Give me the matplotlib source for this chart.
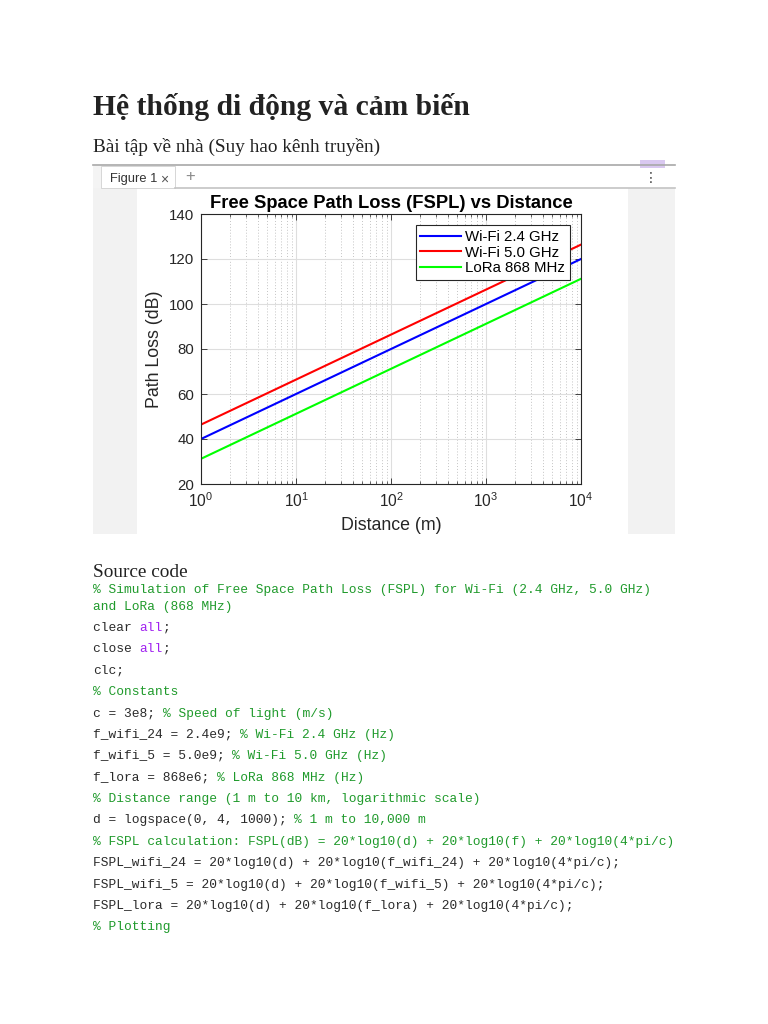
import matplotlib
matplotlib.use("Agg")
import matplotlib.pyplot as plt
from matplotlib.patches import Rectangle
from matplotlib.lines import Line2D
from matplotlib.ticker import LogLocator, NullFormatter

# ---------------- data ----------------
distance_m = [1, 10, 100, 1000, 10000]
fspl_wifi_24 = [40.0, 60.0, 80.0, 100.0, 120.0]
fspl_wifi_5 = [46.4, 66.4, 86.4, 106.4, 126.4]
fspl_lora = [31.2, 51.2, 71.2, 91.2, 111.2]
series_labels = ["Wi-Fi 2.4 GHz", "Wi-Fi 5.0 GHz", "LoRa 868 MHz"]
y_ticks = [20, 40, 60, 80, 100, 120, 140]
x_ticks = [1, 10, 100, 1000, 10000]

page_title = "Hệ thống di động và cảm biến"
page_subtitle = "Bài tập về nhà (Suy hao kênh truyền)"
section_label = "Source code"
code_lines = [
    "% Simulation of Free Space Path Loss (FSPL) for Wi-Fi (2.4 GHz, 5.0 GHz)",
    "%and LoRa (868 MHz)",
    "clear all;",
    "close all;",
    "clc;",
    "% Constants",
    "c = 3e8; % Speed of light (m/s)",
    "f_wifi_24 = 2.4e9; % Wi-Fi 2.4 GHz (Hz)",
    "f_wifi_5 = 5.0e9; % Wi-Fi 5.0 GHz (Hz)",
    "f_lora = 868e6; % LoRa 868 MHz (Hz)",
    "% Distance range (1 m to 10 km, logarithmic scale)",
    "d = logspace(0, 4, 1000); % 1 m to 10,000 m",
    "% FSPL calculation: FSPL(dB) = 20*log10(d) + 20*log10(f) + 20*log10(4*pi/c)",
    "FSPL_wifi_24 = 20*log10(d) + 20*log10(f_wifi_24) + 20*log10(4*pi/c);",
    "FSPL_wifi_5 = 20*log10(d) + 20*log10(f_wifi_5) + 20*log10(4*pi/c);",
    "FSPL_lora = 20*log10(d) + 20*log10(f_lora) + 20*log10(4*pi/c);",
    "% Plotting",
]
code_baselines = [593, 610, 631, 652, 674, 695, 717, 738, 759, 781, 802, 823, 845, 866, 888, 909, 930]

# ---------------- figure ----------------
W, H, DPI = 768, 1024, 100
fig = plt.figure(figsize=(W / DPI, H / DPI), dpi=DPI)
fig.patch.set_facecolor("white")

plt.rcParams["mathtext.fontset"] = "custom"
plt.rcParams["mathtext.rm"] = "Liberation Sans"
plt.rcParams["mathtext.it"] = "Liberation Sans:italic"
plt.rcParams["mathtext.bf"] = "Liberation Sans:bold"


def fx(x):
    return x / W


def fy(y):
    return 1 - y / H


def rect(x0, y0, x1, y1, **kw):
    fig.add_artist(Rectangle((fx(x0), fy(y1)), fx(x1) - fx(x0), fy(y0) - fy(y1),
                             transform=fig.transFigure, **kw))


def hline(x0, x1, y, **kw):
    fig.add_artist(Line2D([fx(x0), fx(x1)], [fy(y), fy(y)], transform=fig.transFigure, **kw))


TXT = "#222222"
SERIF = ["Liberation Serif", "DejaVu Serif"]
MONO = ["Liberation Mono", "DejaVu Sans Mono"]
SANS = ["Liberation Sans", "DejaVu Sans"]

# page texts
fig.text(fx(93), fy(115), page_title, family=SERIF, weight="bold", fontsize=21.3,
         color=TXT, va="baseline", ha="left")
fig.text(fx(93), fy(152), page_subtitle, family=SERIF, fontsize=13.9,
         color=TXT, va="baseline", ha="left")
fig.text(fx(93), fy(577), section_label, family=SERIF, fontsize=13.9,
         color=TXT, va="baseline", ha="left")

# ---------------- embedded figure window ----------------
rect(93, 188, 137, 534, facecolor="#f2f2f2", edgecolor="none")
rect(628, 188, 675, 534, facecolor="#f2f2f2", edgecolor="none")
hline(93, 675, 165, color="#a8a8a8", lw=1.2)
hline(175, 675, 188, color="#c4c4c4", lw=1.2)
rect(93, 166, 101, 188, facecolor="#f4f4f4", edgecolor="none")
rect(101, 166, 175, 188, facecolor="white", edgecolor="#d0d0d0", lw=0.6)
fig.text(fx(110), fy(179), "Figure 1", family=SANS, fontsize=9.3, color="#333333", va="center")
fig.text(fx(160), fy(180), "×", family=SANS, fontsize=10, color="#555555", va="center")
fig.text(fx(190), fy(177), "+", family=SANS, fontsize=12, color="#8a8a8a", va="center", ha="center")
fig.text(fx(651), fy(178), "⋮", family=["DejaVu Sans"], fontsize=10, color="#444444",
         va="center", ha="center")
rect(640, 160, 665, 168, facecolor="#d9c8f0", edgecolor="none")

# ---------------- chart ----------------
ax = fig.add_axes([fx(201), fy(484), fx(581) - fx(201), fy(214) - fy(484)])
colors = ["#0000ff", "#ff0000", "#00ff00"]
for vals, lab, col in zip([fspl_wifi_24, fspl_wifi_5, fspl_lora], series_labels, colors):
    ax.plot(distance_m, vals, color=col, lw=1.5, label=lab)

ax.set_xscale("log")
ax.set_xlim(1, 10000)
ax.set_ylim(20, 140)
ax.set_xticks(x_ticks)
ax.set_xticklabels([r"$10^{%d}$" % i for i in range(len(x_ticks))])
ax.set_yticks(y_ticks)
ax.xaxis.set_minor_locator(LogLocator(base=10, subs=range(2, 10), numticks=20))
ax.xaxis.set_minor_formatter(NullFormatter())

ax.grid(True, which="major", color="#dedede", lw=0.8, ls="-")
ax.grid(True, which="minor", axis="x", color="#c4c4c4", lw=0.7, ls=(0, (1, 2)))
ax.set_axisbelow(True)

ax.tick_params(which="both", direction="in", top=True, right=True, colors="#262626",
               labelsize=10.8)
ax.tick_params(axis="y", pad=5)
ax.tick_params(axis="x", pad=5, labelsize=11.2)
ax.tick_params(which="major", length=4, width=0.6)
ax.tick_params(which="minor", length=2, width=0.5)
for lab in ax.get_xticklabels() + ax.get_yticklabels():
    lab.set_family(SANS)
for s in ax.spines.values():
    s.set_color("#262626")
    s.set_linewidth(0.8)

ax.set_title("Free Space Path Loss (FSPL) vs Distance", family=SANS, weight="bold",
             fontsize=13.2, color="black", pad=4)
ax.set_xlabel("Distance (m)", family=SANS, fontsize=12.8, color="#262626", labelpad=5)
ax.set_ylabel("Path Loss (dB)", family=SANS, fontsize=12.8, color="#262626", labelpad=4)

leg = ax.legend(loc="upper right", prop={"family": SANS, "size": 10.8}, frameon=True,
                fancybox=False, edgecolor="#262626", framealpha=1, handlelength=2.7,
                handletextpad=0.3, labelspacing=0.12, borderpad=0.3, borderaxespad=0.75)
leg.get_frame().set_linewidth(0.8)

# ---------------- source code ----------------
GREEN = "#1f9a2b"
PURPLE = "#a020f0"
CODE_BLACK = "#2a2a2a"
CODE_SIZE = 9.28
char_px = 0.6 * CODE_SIZE * DPI / 72.0

for line, yb in zip(code_lines, code_baselines):
    x0 = 93
    if line.startswith("%and"):
        fig.text(fx(x0), fy(yb), line[1:], family=MONO, fontsize=CODE_SIZE, color=GREEN,
                 va="baseline")
        continue
    if "%" in line:
        i = line.index("%")
        code, comment = line[:i], line[i:]
    else:
        code, comment = line, ""
    if code:
        if " all;" in code:
            head = code.split(" all;")[0] + " "
            fig.text(fx(x0), fy(yb), head, family=MONO, fontsize=CODE_SIZE, color=CODE_BLACK,
                     va="baseline")
            fig.text(fx(x0 + len(head) * char_px), fy(yb), "all", family=MONO,
                     fontsize=CODE_SIZE, color=PURPLE, va="baseline")
            fig.text(fx(x0 + (len(head) + 3) * char_px), fy(yb), ";", family=MONO,
                     fontsize=CODE_SIZE, color=CODE_BLACK, va="baseline")
        else:
            fig.text(fx(x0), fy(yb), code, family=MONO, fontsize=CODE_SIZE, color=CODE_BLACK,
                     va="baseline")
    if comment:
        fig.text(fx(x0 + len(code) * char_px), fy(yb), comment, family=MONO,
                 fontsize=CODE_SIZE, color=GREEN, va="baseline")

fig.savefig("out.png", dpi=DPI)
